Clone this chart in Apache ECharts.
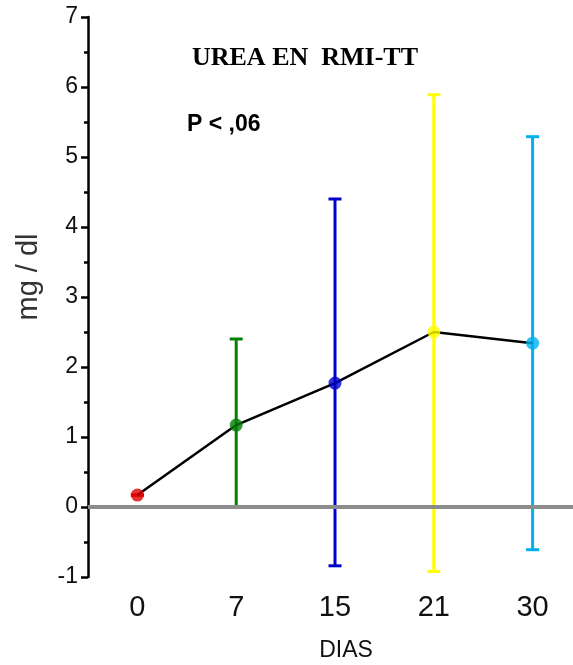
<!DOCTYPE html>
<html>
<head>
<meta charset="utf-8">
<script src="https://cdn.jsdelivr.net/npm/echarts@6/dist/echarts.min.js"></script>
<style>html,body{margin:0;padding:0;background:#fff}#c{width:573px;height:665px}</style>
</head>
<body>
<div id="c"></div>
<script>
const categories = ['0', '7', '15', '21', '30'];
const means = [0.17, 1.17, 1.77, 2.50, 2.34];
const upper = [0.17, 2.40, 4.40, 5.89, 5.29];
const lower = [0.17, 0.00, -0.84, -0.92, -0.61];
const colors = ['#e00000', '#008000', '#0000cc', '#ffff00', '#00b0f0'];
const yTicks = [-1, 0, 1, 2, 3, 4, 5, 6, 7];

const chart = echarts.init(document.getElementById('c'));
const errData = categories.map((c, i) => [i, lower[i], upper[i]]);
chart.setOption({
  animation: false,
  backgroundColor: '#fff',
  grid: { left: 88, width: 494, top: 17, bottom: 88, containLabel: false, outerBoundsMode: 'none' },
  title: [
    { text: 'UREA EN  RMI-TT', left: 300, top: 40, textAlign: 'center',
      textStyle: { fontFamily: 'Liberation Serif', fontWeight: 'bold', fontSize: 26, color: '#000' } },
    { text: 'P < ,06', left: 182, top: 108,
      textStyle: { fontFamily: 'Liberation Sans', fontWeight: 'bold', fontSize: 23, color: '#000' } }
  ],
  graphic: [
    { type: 'text', x: 29, y: 277, rotation: Math.PI / 2,
      style: { text: 'mg / dl', fontFamily: 'Liberation Sans', fontSize: 29, fill: '#333',
        align: 'center', verticalAlign: 'middle' } }
  ],
  xAxis: {
    type: 'category', data: categories, boundaryGap: true,
    name: 'DIAS', nameLocation: 'middle', nameGap: 62,
    nameTextStyle: { fontFamily: 'Liberation Sans', fontSize: 23, color: '#111', padding: [0, 0, 0, 22] },
    axisLine: { lineStyle: { color: '#000', width: 2.5 } },
    axisTick: { alignWithLabel: true, length: 9, lineStyle: { color: '#000', width: 2.5 } },
    axisLabel: { fontFamily: 'Liberation Sans', fontSize: 29, color: '#111', margin: 16 },
    splitLine: { show: false }
  },
  yAxis: {
    type: 'value', min: -1, max: 7, interval: 1,
    axisLine: { show: true, lineStyle: { color: '#000', width: 2.5 } },
    axisTick: { show: true, length: 7, lineStyle: { color: '#000', width: 2.5 } },
    minorTick: { show: true, splitNumber: 2, length: 4, lineStyle: { color: '#000', width: 2.5 } },
    axisLabel: { fontFamily: 'Liberation Sans', fontSize: 23, color: '#111', margin: 10,
      formatter: v => yTicks.includes(v) ? String(v) : '' },
    splitLine: { show: false }
  },
  series: [
    {
      type: 'custom', z: 2,
      data: errData,
      renderItem: (params, api) => {
        const i = api.value(0);
        const lo = api.coord([i, api.value(1)]);
        const hi = api.coord([i, api.value(2)]);
        const hw = 6.5;
        const style = { stroke: colors[params.dataIndex], lineWidth: 3 };
        return { type: 'group', children: [
          { type: 'line', shape: { x1: lo[0], y1: lo[1], x2: hi[0], y2: hi[1] }, style },
          { type: 'line', shape: { x1: hi[0] - hw, y1: hi[1], x2: hi[0] + hw, y2: hi[1] }, style },
          { type: 'line', shape: { x1: lo[0] - hw, y1: lo[1], x2: lo[0] + hw, y2: lo[1] }, style }
        ]};
      }
    },
    {
      type: 'line', z: 3, data: means, showSymbol: false, symbol: 'none',
      lineStyle: { color: '#000', width: 2.5 },
      markLine: {
        silent: true, symbol: 'none', label: { show: false },
        lineStyle: { color: '#8c8c8c', width: 4, type: 'solid' },
        data: [{ yAxis: 0 }]
      }
    },
    {
      type: 'scatter', z: 4, symbolSize: 13,
      data: means.map((m, i) => ({ value: [i, m], itemStyle: { color: colors[i] } }))
    }
  ]
});
</script>
</body>
</html>
